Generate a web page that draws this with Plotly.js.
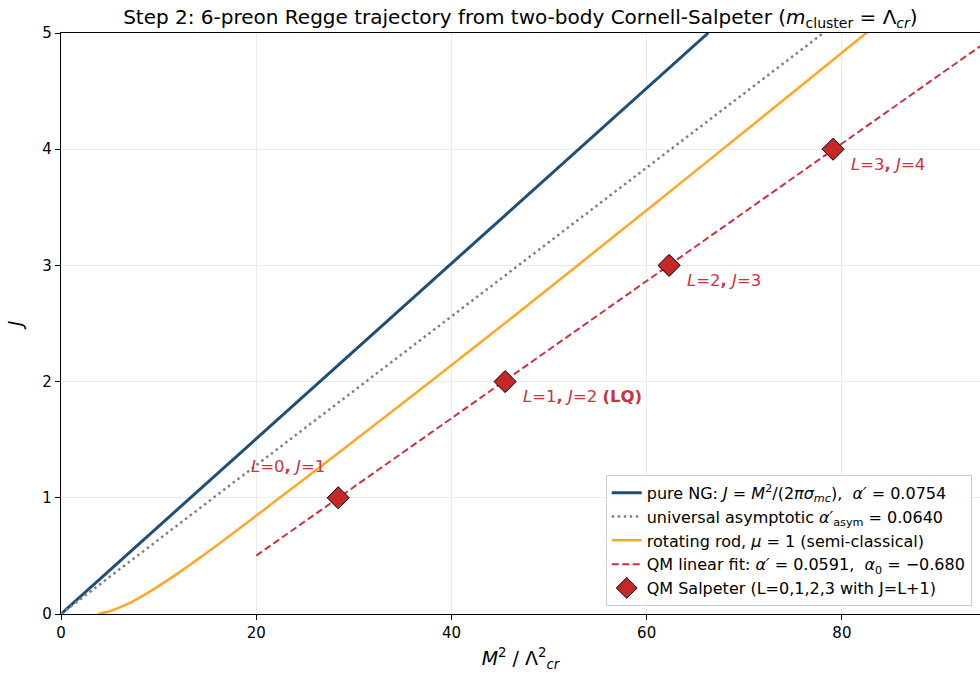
<!DOCTYPE html>
<html>
<head>
<meta charset="utf-8">
<script src="https://cdn.plot.ly/plotly-3.0.1.min.js"></script>
<style>html,body{margin:0;padding:0;background:#fff;}#chart{width:980px;height:679px;}</style>
</head>
<body>
<div id="chart"></div>
<script>
// Pure Nambu-Goto line (alpha' = 0.0754), endpoints
var ngM2 = [0, 66.3];
var ngJ = [0, 5.0];
// Universal asymptotic line (alpha'_asym = 0.0640)
var asymM2 = [0, 78.1];
var asymJ = [0, 5.0];
// Rotating rod, mu = 1 (semi-classical)
var rodM2 = [3.8, 5.0, 6.9, 8.5, 10.2, 12.0, 14.0, 16.0, 18.0, 20.5, 25.0, 30.3, 38.0, 46.0, 60.0, 70.0, 83.2, 86.0];
var rodJ  = [0.0, 0.024, 0.089, 0.163, 0.251, 0.352, 0.470, 0.592, 0.718, 0.878, 1.166, 1.508, 2.009, 2.537, 3.475, 4.150, 5.048, 5.238];
// QM linear fit (alpha' = 0.0591, alpha0 = -0.680)
var fitM2 = [20.0, 95.0];
var fitJ = [0.502, 4.935];
// QM Salpeter points
var qmM2 = [28.4, 45.5, 62.3, 79.1];
var qmJ = [1, 2, 3, 4];
var qmLabels = [
  "<i>L</i>=0<b>,</b> <i>J</i>=1",
  "<i>L</i>=1<b>,</b> <i>J</i>=2 <b>(LQ)</b>",
  "<i>L</i>=2<b>,</b> <i>J</i>=3",
  "<i>L</i>=3<b>,</b> <i>J</i>=4"
];
var xTicks = [0, 20, 40, 60, 80];
var yTicks = [0, 1, 2, 3, 4, 5];

var red = "#cc3340";
var traces = [
  {x: ngM2, y: ngJ, mode: "lines", line: {color: "#1f4e79", width: 3},
   name: "pure NG: <i>J</i> = <i>M</i><sup>2</sup>/(2<i>πσ</i><sub><i>mc</i></sub>),  <i>α′</i> = 0.0754"},
  {x: asymM2, y: asymJ, mode: "lines", line: {color: "#808080", width: 2.5, dash: "2.5px,3.5px"},
   name: "universal asymptotic <i>α′</i><sub>asym</sub> = 0.0640"},
  {x: rodM2, y: rodJ, mode: "lines", line: {color: "#ffa726", width: 2.5, shape: "spline", smoothing: 0.6},
   name: "rotating rod, <i>μ</i> = 1 (semi-classical)"},
  {x: fitM2, y: fitJ, mode: "lines", line: {color: red, width: 2, dash: "7px,3.5px"},
   name: "QM linear fit: <i>α′</i> = 0.0591,  <i>α</i><sub>0</sub> = −0.680"},
  {x: qmM2, y: qmJ, mode: "markers", cliponaxis: false,
   marker: {symbol: "diamond", size: 17, color: "#c62828", line: {color: "#000", width: 1}},
   name: "QM Salpeter (L=0,1,2,3 with J=L+1)"}
];

var annotations = qmM2.map(function (m, i) {
  if (i === 0) {
    return {x: m, y: qmJ[i], xref: "x", yref: "y", text: qmLabels[i], showarrow: false,
      xanchor: "right", yanchor: "middle", xshift: -11, yshift: 31,
      font: {size: 16.5, color: red, family: "DejaVu Sans"}};
  }
  return {x: m, y: qmJ[i], xref: "x", yref: "y", text: qmLabels[i], showarrow: false,
    xanchor: "left", yanchor: "middle", xshift: 16, yshift: -15,
    font: {size: 16.5, color: red, family: "DejaVu Sans"}};
});

var layout = {
  width: 980, height: 679,
  margin: {l: 61, r: 0, t: 33, b: 65},
  paper_bgcolor: "#fff", plot_bgcolor: "#fff",
  font: {family: "DejaVu Sans", color: "#000", size: 14},
  title: {text: "Step 2: 6-preon Regge trajectory from two-body Cornell-Salpeter (<i>m</i><sub>cluster</sub> = Λ<sub><i>cr</i></sub>)",
    font: {size: 20}, x: 0.531, xanchor: "center", y: 0.975, yanchor: "middle"},
  xaxis: {range: [0, 94.15], tickvals: xTicks, ticks: "outside", ticklen: 5, tickcolor: "#000",
    showline: true, linecolor: "#000", linewidth: 1.2, mirror: true,
    showgrid: true, gridcolor: "#ebebeb", gridwidth: 1, zeroline: false,
    tickfont: {size: 15},
    title: {text: "<i>M</i><sup>2</sup> / Λ<sup>2</sup><sub><i>cr</i></sub>", font: {size: 19}, standoff: 10}},
  yaxis: {range: [0, 5], tickvals: yTicks, ticks: "outside", ticklen: 5, tickcolor: "#000",
    showline: true, linecolor: "#000", linewidth: 1.2,
    showgrid: true, gridcolor: "#ebebeb", gridwidth: 1, zeroline: false,
    tickfont: {size: 15},
    title: {text: "<i>J</i>", font: {size: 19}, standoff: 14}},
  legend: {x: 0.991, xanchor: "right", y: 0.014, yanchor: "bottom",
    bgcolor: "rgba(255,255,255,0.85)", bordercolor: "#cccccc", borderwidth: 1,
    font: {size: 16}, tracegroupgap: 0},
  showlegend: true,
  annotations: annotations
};

Plotly.newPlot("chart", traces, layout, {displayModeBar: false, staticPlot: true});
</script>
</body>
</html>
